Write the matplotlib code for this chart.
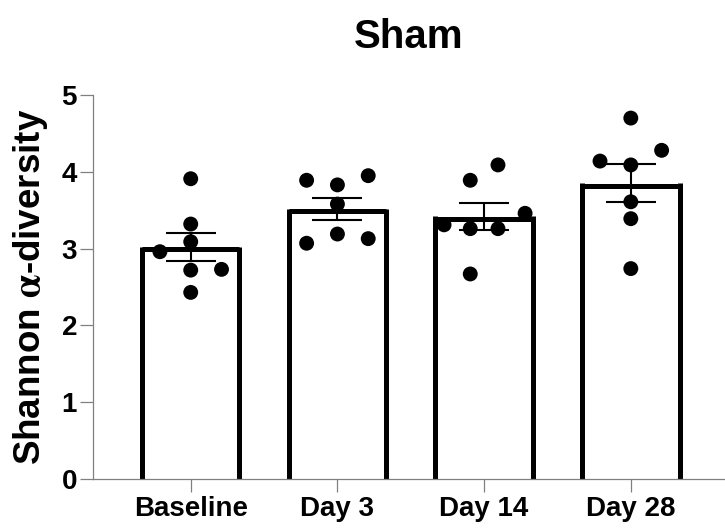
import numpy as np
import matplotlib
matplotlib.use("Agg")
import matplotlib.pyplot as plt
from matplotlib.transforms import offset_copy

plt.rcParams['font.family'] = ['Liberation Sans', 'DejaVu Sans']
plt.rcParams['font.weight'] = 'bold'
plt.rcParams['mathtext.fontset'] = 'stix'

groups = ["Baseline", "Day 3", "Day 14", "Day 28"]

# Shannon index per animal
baseline = [3.91, 3.32, 3.09, 2.96, 2.72, 2.73, 2.43]
day3 = [3.89, 3.83, 3.95, 3.58, 3.19, 3.07, 3.13]
day14 = [3.89, 4.09, 3.46, 3.31, 3.26, 3.26, 2.67]
day28 = [4.70, 4.28, 4.14, 4.09, 3.61, 3.39, 2.74]

# horizontal scatter of the dots inside each bar (in dot widths)
jitter = [
    [0, 0, 0, -1, 0, 1, 0],
    [-1, 0, 1, 0, 0, -1, 1],
    [-0.45, 0.45, 1.33, -1.3, -0.45, 0.45, -0.45],
    [0, 1, -1, 0, 0, 0, 0],
]

data = [baseline, day3, day14, day28]
means = [np.mean(d) for d in data]
sems = [np.std(d, ddof=1) / np.sqrt(len(d)) for d in data]

fig = plt.figure(figsize=(7.25, 5.28), dpi=100)
ax = fig.add_axes([0.1283, 0.0928, 0.8717, 0.7272])

w = 0.665
step = 0.21
bar_lw = 3.6
axis_grey = '0.5'

# top edge sits just inside the bar so its outer side marks the mean
top_trans = offset_copy(ax.transData, fig=fig, y=-bar_lw / 2, units='points')

for i, (d, m, s) in enumerate(zip(data, means, sems)):
    for xe in (i - w / 2, i + w / 2):
        ax.plot([xe, xe], [0, m], color='black', lw=bar_lw,
                solid_capstyle='butt', zorder=2)
    ax.plot([i - w / 2, i + w / 2], [m, m], color='black', lw=bar_lw,
            solid_capstyle='butt', transform=top_trans, zorder=2)
    ax.errorbar(i, m, yerr=s, fmt='none', ecolor='black', elinewidth=1.5,
                capsize=18, capthick=1.5, zorder=3)
    xs = [i + j * step for j in jitter[i]]
    ax.scatter(xs, d, s=115, color='black', edgecolors='none', zorder=4,
               clip_on=False)

ax.set_xlim(-0.666, 3.642)
ax.set_ylim(0, 5)
ax.set_yticks([0, 1, 2, 3, 4, 5])
ax.set_xticks(range(len(groups)))
ax.set_xticklabels(groups)

for side in ['top', 'right']:
    ax.spines[side].set_visible(False)
for side in ['left', 'bottom']:
    ax.spines[side].set_color(axis_grey)
    ax.spines[side].set_linewidth(0.9)

ax.tick_params(axis='both', colors=axis_grey, width=0.9, length=9.5,
               labelsize=20, labelcolor='black')
ax.tick_params(axis='y', pad=2)
ax.tick_params(axis='x', pad=3)
for lab in ax.get_xticklabels() + ax.get_yticklabels():
    lab.set_fontweight('bold')

ax.set_ylabel(r'Shannon $\mathrm{\alpha}$-diversity', fontsize=26.5,
              fontweight='bold', labelpad=8)
ax.set_title('Sham', fontsize=29, fontweight='bold', pad=34)

fig.savefig('out.png', dpi=100)
